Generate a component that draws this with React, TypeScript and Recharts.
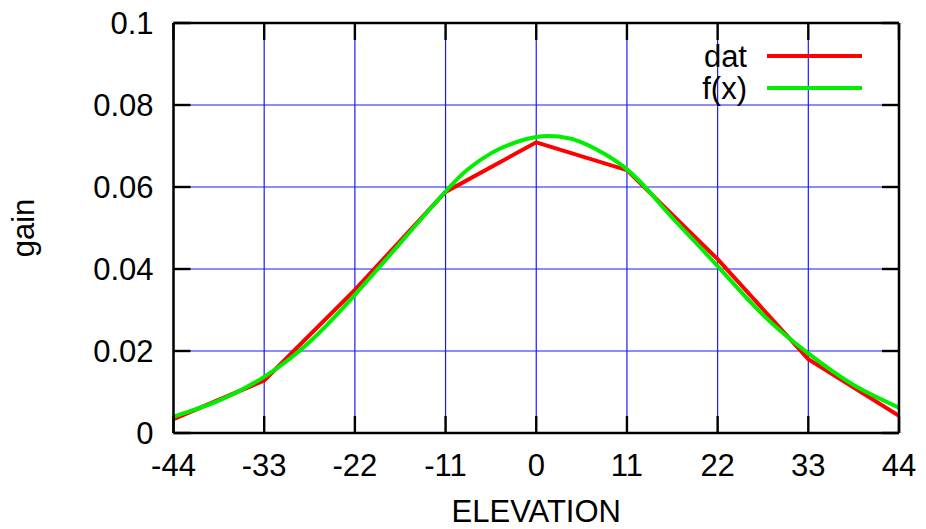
import React from "react";
import { LineChart, Line, XAxis, YAxis, CartesianGrid, Label } from "recharts";

// ---- data ----
const elevTicks = [-44, -33, -22, -11, 0, 11, 22, 33, 44];
const gainTicks = [0, 0.02, 0.04, 0.06, 0.08, 0.1];

const datX = [-44, -33, -22, -11, 0, 11, 22, 33, 44];
const datY = [0.0034, 0.0128, 0.0349, 0.0588, 0.0709, 0.0641, 0.0424, 0.018, 0.0042];

const fitX = [-44, -38.5, -33, -27.5, -22, -16.5, -11, -8.25, -5.5, -2.75, 0, 2.75, 5.5, 8.25, 11, 13.75, 16.5, 22, 27.5, 33, 38.5, 44];
const fitY = [0.004, 0.0079, 0.0137, 0.0222, 0.0337, 0.0463, 0.0589, 0.0644, 0.0682, 0.0707, 0.0722, 0.0723, 0.0709, 0.0681, 0.0643, 0.0588, 0.0525, 0.0407, 0.0288, 0.0194, 0.0117, 0.0062];

const seriesNames = ["dat", "f(x)"];
const seriesColors = ["#ff0000", "#00ee00"];

const datRows = datX.map((x, i) => ({ x, y: datY[i] }));
const fitRows = fitX.map((x, i) => ({ x, y: fitY[i] }));

const FONT = "'Liberation Sans', Arial, Helvetica, sans-serif";
const FS = 31;
const TICK = 17;

const BottomTick = (props: any) => {
  const { x, y, payload } = props;
  return (
    <g>
      <line x1={x} x2={x} y1={y} y2={y - TICK} stroke="#000" strokeWidth={2.4} />
      <text x={x} y={y + 43} textAnchor="middle" fontFamily={FONT} fontSize={FS} fill="#000">
        {String(payload.value)}
      </text>
    </g>
  );
};

const TopTick = (props: any) => {
  const { x, y } = props;
  return <line x1={x} x2={x} y1={y} y2={y + TICK} stroke="#000" strokeWidth={2.4} />;
};

const LeftTick = (props: any) => {
  const { x, y, payload } = props;
  return (
    <g>
      <line x1={x} x2={x + TICK} y1={y} y2={y} stroke="#000" strokeWidth={2.4} />
      <text x={x - 20} y={y + 11} textAnchor="end" fontFamily={FONT} fontSize={FS} fill="#000">
        {String(payload.value)}
      </text>
    </g>
  );
};

const RightTick = (props: any) => {
  const { x, y } = props;
  return <line x1={x} x2={x - TICK} y1={y} y2={y} stroke="#000" strokeWidth={2.4} />;
};

export default function App() {
  return (
    <div style={{ position: "absolute", left: 0, top: 0, width: 926, height: 529, background: "#fff" }}>
      <LineChart width={926} height={529} margin={{ top: 0, right: 0, bottom: 0, left: 0 }}>
        <CartesianGrid xAxisId="b" yAxisId="l" stroke="#1a1aff" strokeWidth={1.2} />
        <XAxis
          xAxisId="b"
          type="number"
          dataKey="x"
          domain={[-44, 44]}
          ticks={elevTicks}
          allowDataOverflow
          orientation="bottom"
          height={96}
          tickSize={0}
          tickMargin={0}
          axisLine={{ stroke: "#000", strokeWidth: 2.5 }}
          tick={<BottomTick />}
          interval={0}
        >
          <Label
            content={(p: any) => {
              const vb = p.viewBox;
              return (
                <text x={vb.x + vb.width / 2} y={vb.y + 88.5} textAnchor="middle" fontFamily={FONT} fontSize={FS} fill="#000">
                  ELEVATION
                </text>
              );
            }}
          />
        </XAxis>
        <XAxis
          xAxisId="t"
          type="number"
          dataKey="x"
          domain={[-44, 44]}
          ticks={elevTicks}
          allowDataOverflow
          orientation="top"
          height={23}
          tickSize={0}
          tickMargin={0}
          axisLine={{ stroke: "#000", strokeWidth: 2.5 }}
          tick={<TopTick />}
          interval={0}
        />
        <YAxis
          yAxisId="l"
          type="number"
          dataKey="y"
          domain={[0, 0.1]}
          ticks={gainTicks}
          allowDataOverflow
          orientation="left"
          width={173.5}
          tickSize={0}
          tickMargin={0}
          axisLine={{ stroke: "#000", strokeWidth: 2.5 }}
          tick={<LeftTick />}
          interval={0}
        >
          <Label
            content={() => (
              <text x={34} y={228} transform="rotate(-90, 34, 228)" textAnchor="middle" fontFamily={FONT} fontSize={FS} fill="#000">
                gain
              </text>
            )}
          />
        </YAxis>
        <YAxis
          yAxisId="r"
          type="number"
          dataKey="y"
          domain={[0, 0.1]}
          ticks={gainTicks}
          allowDataOverflow
          orientation="right"
          width={27}
          tickSize={0}
          tickMargin={0}
          axisLine={{ stroke: "#000", strokeWidth: 2.5 }}
          tick={<RightTick />}
          interval={0}
        />
        <Line
          xAxisId="b"
          yAxisId="l"
          data={datRows}
          dataKey="y"
          type="linear"
          stroke={seriesColors[0]}
          strokeWidth={4}
          dot={false}
          isAnimationActive={false}
        />
        <Line
          xAxisId="b"
          yAxisId="l"
          data={fitRows}
          dataKey="y"
          type="natural"
          stroke={seriesColors[1]}
          strokeWidth={4}
          dot={false}
          isAnimationActive={false}
        />
      </LineChart>
      <svg width={926} height={529} style={{ position: "absolute", left: 0, top: 0, pointerEvents: "none" }}>
        {seriesNames.map((name, i) => (
          <g key={name}>
            <text x={747} y={66.5 + i * 32} textAnchor="end" fontFamily={FONT} fontSize={FS} fill="#000">
              {name}
            </text>
            <line x1={767} x2={862} y1={56 + i * 32} y2={56 + i * 32} stroke={seriesColors[i]} strokeWidth={4} />
          </g>
        ))}
      </svg>
    </div>
  );
}
